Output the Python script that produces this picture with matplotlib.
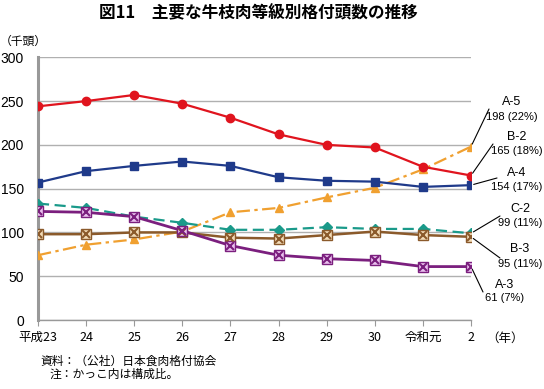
import matplotlib
matplotlib.use('Agg')
import matplotlib.pyplot as plt

plt.rcParams['font.family'] = ['Noto Sans CJK JP', 'DejaVu Sans']

# data (thousand head)
years = ['平成23', '24', '25', '26', '27', '28', '29', '30', '令和元', '2']
b2 = [244, 250, 257, 247, 231, 212, 200, 197, 175, 165]
a4 = [157, 170, 176, 181, 176, 163, 159, 158, 152, 154]
c2 = [133, 128, 118, 111, 103, 103, 106, 104, 104, 99]
a3 = [124, 123, 118, 102, 85, 74, 70, 68, 61, 61]
b3 = [98, 98, 100, 100, 94, 93, 97, 101, 97, 95]
a5 = [74, 86, 92, 101, 123, 128, 140, 151, 172, 198]

grades = ['A-5', 'B-2', 'A-4', 'C-2', 'B-3', 'A-3']
last_vals = ['198', '165', '154', '99', '95', '61']
shares = ['22%', '18%', '17%', '11%', '11%', '7%']

W, H = 544, 389
fig = plt.figure(figsize=(W / 100, H / 100), dpi=100)
ax = fig.add_axes([38 / W, 1 - 320 / H, (471 - 38) / W, (320 - 57.3) / H])

x = list(range(len(years)))

# lines
ax.plot(x, a5, color='#f0a030', lw=1.6, ls=(0, (6, 2, 1.5, 2)), marker='^', ms=6,
        mfc='#f0a030', mec='#f0a030', zorder=3)
ax.plot(x, c2, color='#1a9a8a', lw=1.6, ls=(0, (5, 2.5)), marker='D', ms=5.5,
        mfc='#1a9a8a', mec='#1a9a8a', zorder=3)
ax.plot(x, b3, color='#8b5a2b', lw=1.8, marker='s', ms=7, mfc='#f3dcb8', mec='#8b5a2b',
        zorder=4)
ax.plot(x, b3, ls='none', marker='x', ms=6, mec='#8b5a2b', mew=1.5, zorder=5)
ax.plot(x, a3, color='#7b1f7e', lw=2.0, marker='s', ms=7, mfc='#eac0ee', mec='#7b1f7e',
        zorder=4)
ax.plot(x, a3, ls='none', marker='x', ms=6, mec='#7b1f7e', mew=1.5, zorder=5)
ax.plot(x, a4, color='#1f3a8a', lw=1.6, marker='s', ms=6, mfc='#1f3a8a', mec='#1f3a8a',
        zorder=4)
ax.plot(x, b2, color='#e0141e', lw=1.6, marker='o', ms=6, mfc='#e0141e', mec='#e0141e',
        zorder=4)

ax.set_xlim(0, len(years) - 1)
ax.set_ylim(0, 300)
ax.set_yticks(range(0, 301, 50))
ax.yaxis.grid(True, color='#b0b0b0', lw=1.0)
ax.set_axisbelow(True)
for s in ['top', 'right']:
    ax.spines[s].set_visible(False)
ax.spines['left'].set_color('#999999')
ax.spines['left'].set_linewidth(2.2)
ax.spines['bottom'].set_color('#999999')
ax.spines['bottom'].set_linewidth(1.0)
ax.set_xticks(x)
ax.set_xticklabels(years, fontsize=9)
ax.tick_params(axis='x', length=4, color='#999999', pad=4)
ax.tick_params(axis='y', length=0, pad=10, labelsize=10)
for lab in ax.get_yticklabels():
    lab.set_fontfamily(['Liberation Sans', 'DejaVu Sans'])

def fx(px):
    return px / W

def fy(py):
    return 1 - py / H

# right-side labels: (series, text center x, grade y, value y, line end px)
ann = [
    (a5, 512, 102, 117, (489, 109)),
    (b2, 517, 137, 151, (493, 144)),
    (a4, 517, 173, 187, (497, 178)),
    (c2, 520, 209, 223, (500, 216)),
    (b3, 520, 249, 264, (500, 258)),
    (a3, 505, 285, 298, (483, 292)),
]
for i, (ser, tx, gy, vy, end) in enumerate(ann):
    ax.annotate('', xy=(len(years) - 1, ser[-1]), xycoords='data',
                xytext=(fx(end[0]), fy(end[1])), textcoords='figure fraction',
                arrowprops=dict(arrowstyle='-', color='black', lw=0.8,
                                shrinkA=0, shrinkB=2), annotation_clip=False)
    fig.text(fx(tx), fy(gy), grades[i], ha='center', va='center', fontsize=9,
             family=['Liberation Sans', 'DejaVu Sans'])
    fig.text(fx(tx), fy(vy), f'{last_vals[i]} ({shares[i]})', ha='center', va='center',
             fontsize=8, family=['Liberation Sans', 'DejaVu Sans'])

fig.text(fx(258), fy(13), '図11　主要な牛枝肉等級別格付頭数の推移', ha='center', va='center',
         fontsize=12, fontweight='bold')
fig.text(fx(0), fy(41), '（千頭）', ha='left', va='center', fontsize=8.5)
fig.text(fx(505), fy(338), '（年）', ha='center', va='center', fontsize=9)
fig.text(fx(40), fy(361), '資料：（公社）日本食肉格付協会', ha='left', va='center', fontsize=8.5)
fig.text(fx(50), fy(374), '注：かっこ内は構成比。', ha='left', va='center', fontsize=8.5)

fig.savefig('out.png', dpi=100, facecolor='white')
